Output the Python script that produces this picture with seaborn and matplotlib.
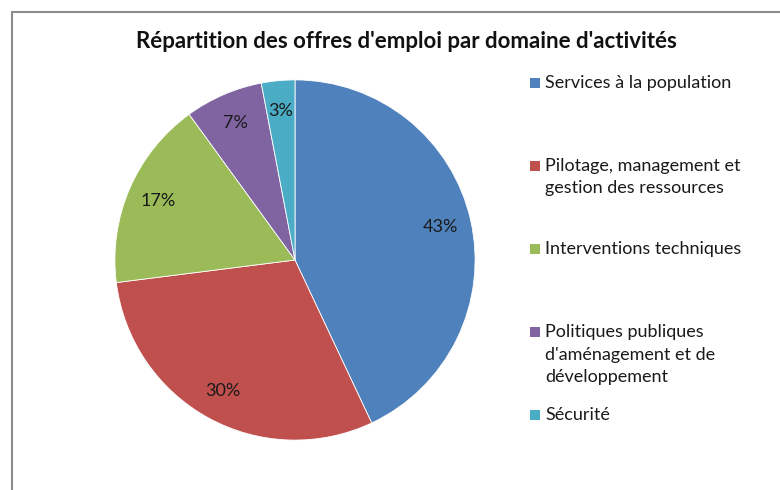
import matplotlib
matplotlib.use("Agg")
import matplotlib.pyplot as plt
import seaborn as sns
from matplotlib.lines import Line2D
from matplotlib.patches import Rectangle

sns.set_theme(style="white")
plt.rcParams["font.family"] = ["Lato", "DejaVu Sans"]

# Data
domaines = [
    "Services à la population",
    "Pilotage, management et\ngestion des ressources",
    "Interventions techniques",
    "Politiques publiques\nd'aménagement et de\ndéveloppement",
    "Sécurité",
]
parts = [43, 30, 17, 7, 3]
couleurs = ["#4F81BD", "#C0504D", "#9BBB59", "#8064A2", "#4BACC6"]

W, H = 780, 490
fig = plt.figure(figsize=(W / 100, H / 100), dpi=100)

# Frame (cut off on right and bottom like the original screenshot)
fig.add_artist(Line2D([12 / W, 12 / W], [0, 1 - 12 / H], color="#8c8c8c", lw=1.5,
                      transform=fig.transFigure))
fig.add_artist(Line2D([12 / W, 1], [1 - 12 / H, 1 - 12 / H], color="#8c8c8c", lw=1.5,
                      transform=fig.transFigure))

# Pie
ax = fig.add_axes([114 / W, 1 - 441 / H, 362 / W, 362 / H])
wedges, texts, autotexts = ax.pie(
    parts,
    colors=couleurs,
    startangle=90,
    counterclock=False,
    autopct="%1.0f%%",
    pctdistance=0.83,
    wedgeprops={"edgecolor": "white", "linewidth": 0.6},
    textprops={"fontsize": 13, "color": "#1a1a1a"},
)
ax.set_xlim(-1.005, 1.005)
ax.set_ylim(-1.005, 1.005)
ax.set_aspect("equal")
ax.axis("off")

fig.text(406 / W, 1 - 42 / H, "Répartition des offres d'emploi par domaine d'activités",
         ha="center", va="center", fontsize=16, fontweight="bold", color="#111111")

# Legend, entries top aligned with even spacing
for i, (lab, col) in enumerate(zip(domaines, couleurs)):
    top = 75 + 83 * i
    fig.add_artist(Rectangle((530 / W, 1 - (top + 13) / H), 10 / W, 10 / H,
                             facecolor=col, edgecolor="none", transform=fig.transFigure))
    fig.text(545 / W, 1 - top / H, lab, ha="left", va="top", fontsize=13,
             color="#1a1a1a", linespacing=1.5)

fig.savefig("out.png", dpi=100)
